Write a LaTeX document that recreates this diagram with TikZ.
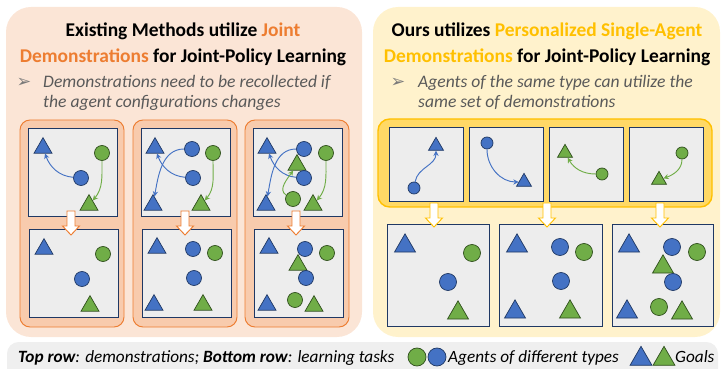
\documentclass[tikz,border=0pt]{standalone}
\usepackage{fontspec}
\setmainfont{Carlito}
\newfontfamily\symfont{DejaVu Sans}
\usepackage{tikz}
\usetikzlibrary{arrows.meta,shapes.geometric,positioning}
\definecolor{bfill}{HTML}{4472C4}
\definecolor{bline}{HTML}{1F3864}
\definecolor{gfill}{HTML}{70AD47}
\definecolor{gline}{HTML}{2F4F1C}
\definecolor{orng}{HTML}{ED7D31}
\definecolor{yllw}{HTML}{FFC000}
\definecolor{peach}{HTML}{FBE5D6}
\definecolor{salmon}{HTML}{F8CBAD}
\definecolor{cream}{HTML}{FFF2CC}
\definecolor{gold}{HTML}{FFD966}
\definecolor{boxgray}{HTML}{EDEDED}
\definecolor{txtgray}{HTML}{595959}
\tikzset{
  agentb/.style={circle,draw=bline,fill=bfill,line width=0.6pt,inner sep=0pt,minimum size=#1},
  agentb/.default=0.45cm,
  agentg/.style={circle,draw=gline,fill=gfill,line width=0.6pt,inner sep=0pt,minimum size=#1},
  agentg/.default=0.45cm,
  goalb/.style={regular polygon,regular polygon sides=3,draw=bline,fill=bfill,line width=0.6pt,inner sep=0pt,minimum size=#1},
  goalb/.default=0.62cm,
  goalg/.style={regular polygon,regular polygon sides=3,draw=gline,fill=gfill,line width=0.6pt,inner sep=0pt,minimum size=#1},
  goalg/.default=0.62cm,
  barrow/.style={-{Stealth[length=4.5pt,width=4.5pt]},bfill,line width=0.8pt},
  garrow/.style={-{Stealth[length=4.5pt,width=4.5pt]},gfill,line width=0.8pt},
  envbox/.style={draw=bline,fill=boxgray,line width=0.6pt},
  title/.style={anchor=base,font=\fontsize{16.6}{19}\selectfont\bfseries,inner sep=0pt},
  bullet/.style={anchor=base west,font=\fontsize{15}{18}\selectfont\itshape,text=txtgray,inner sep=0pt},
  bmark/.style={anchor=base,font=\fontsize{15}{18}\selectfont\symfont,text=txtgray!80,inner sep=0pt},
  legend/.style={anchor=base west,font=\fontsize{14.7}{17}\selectfont\itshape,inner sep=0pt}
}
% hollow block arrow pointing down: colour, x, top y
\newcommand*{\downarr}[3]{\draw[#1,fill=white,line width=0.8pt,line join=miter]
  ({#2-4},{#3}) -- ({#2+4},{#3}) -- ({#2+4},{#3+15}) -- ({#2+8.5},{#3+15})
  -- ({#2},{#3+24}) -- ({#2-8.5},{#3+15}) -- ({#2-4},{#3+15}) -- cycle;}

\begin{document}
\begin{tikzpicture}[x=0.03cm,y=-0.03cm]
  \useasboundingbox (0,0) rectangle (724,369);
  \clip (0,0) rectangle (724,369);

  % panels
  \fill[peach,rounded corners=0.75cm] (6,7) rectangle (362,337);
  \fill[cream,rounded corners=0.75cm] (373,7) rectangle (720,337);
  \fill[boxgray!90!white,rounded corners=0.35cm] (7,342) rectangle (718,380);

  % titles
  \node[title] (ltitle1) at (183,37) {Existing Methods utilize \textcolor{orng}{Joint}};
  \node[title] (ltitle2) at (183,63) {\textcolor{orng}{Demonstrations} for Joint-Policy Learning};
  \node[title] (rtitle1) at (547,37) {Ours utilizes \textcolor{yllw}{Personalized Single-Agent}};
  \node[title] (rtitle2) at (547,63) {\textcolor{yllw}{Demonstrations} for Joint-Policy Learning};
  \node[bmark] (lmark) at (24,88) {➢};
  \node[bullet] (lbul1) at (43,88) {Demonstrations need to be recollected if};
  \node[bullet] (lbul2) at (43,108) {the agent configurations changes};
  \node[bmark] (rmark) at (398,88) {➢};
  \node[bullet] (rbul1) at (418,88) {Agents of the same type can utilize the};
  \node[bullet] (rbul2) at (418,108) {same set of demonstrations};

  % left: joint demonstrations
  \foreach \dx in {0,113,225}{
    \draw[orng,fill=salmon,line width=0.8pt,rounded corners=0.3cm] (20+\dx,120) rectangle (124+\dx,327);
    \draw[envbox] (28+\dx,128) rectangle (117+\dx,216);
    \draw[envbox] (29+\dx,229) rectangle (118+\dx,317);
  }

  % panel 1
  \node[goalb] (l1gb) at (43,148) {};
  \node[agentg] (l1ag) at (102,153) {};
  \node[agentb] (l1ab) at (81,178) {};
  \node[goalg] (l1gg) at (89,205) {};
  \draw[barrow] (l1ab) to[out=175,in=-70] (l1gb);
  \draw[garrow] (l1ag) to[out=-90,in=50] (l1gg);
  \node[goalb] (l1tgb) at (44,249) {};
  \node[agentg] (l1tag) at (103,254) {};
  \node[agentb] (l1tab) at (82,279) {};
  \node[goalg] (l1tgg) at (90,306) {};

  % panel 2
  \node[goalb] (l2gb1) at (155,148) {};
  \node[agentb] (l2ab1) at (192,149) {};
  \node[agentg] (l2ag) at (213,153) {};
  \node[agentb] (l2ab2) at (193,178) {};
  \node[goalb] (l2gb2) at (153,205) {};
  \node[goalg] (l2gg) at (201,205) {};
  \draw[barrow] (l2ab1) to[out=180,in=80] (l2gb2);
  \draw[barrow] (l2ab2) to[out=175,in=-70] (l2gb1);
  \draw[garrow] (l2ag) to[out=-90,in=50] (l2gg);
  \node[goalb] (l2tgb1) at (157,248) {};
  \node[agentb] (l2tab1) at (193,249) {};
  \node[agentg] (l2tag) at (215,253) {};
  \node[agentb] (l2tab2) at (194,278) {};
  \node[goalb] (l2tgb2) at (154,305) {};
  \node[goalg] (l2tgg) at (203,305) {};

  % panel 3
  \node[goalb] (l3gb1) at (267,148) {};
  \node[agentb] (l3ab1) at (304,149) {};
  \node[agentg] (l3ag1) at (326,153) {};
  \node[goalg] (l3gg1) at (297,165) {};
  \node[agentb] (l3ab2) at (304,178) {};
  \node[goalb] (l3gb2) at (266,205) {};
  \node[agentg] (l3ag2) at (293,199) {};
  \node[goalg] (l3gg2) at (313,205) {};
  \draw[barrow] (l3ab1) to[out=180,in=80] (l3gb2);
  \draw[barrow] (l3ab2) to[out=175,in=-70] (l3gb1);
  \draw[garrow] (l3ag2) to[out=150,in=-125] (l3gg1);
  \draw[garrow] (l3ag1) to[out=-90,in=50] (l3gg2);
  \node[goalb] (l3tgb1) at (269,248) {};
  \node[agentb] (l3tab1) at (305,249) {};
  \node[agentg] (l3tag1) at (327,253) {};
  \node[goalg] (l3tgg1) at (298,265) {};
  \node[agentb] (l3tab2) at (306,278) {};
  \node[goalb] (l3tgb2) at (267,305) {};
  \node[agentg] (l3tag2) at (295,300) {};
  \node[goalg] (l3tgg2) at (314,306) {};

  \downarr{orng}{71}{211}
  \downarr{orng}{185}{211}
  \downarr{orng}{296}{211}

  % right: single-agent demonstrations
  \draw[yllw,fill=gold,line width=1.2pt,rounded corners=0.35cm] (378,119) rectangle (712,207);
  \foreach \x in {389,469,549,629}
    \draw[envbox] (\x,127) rectangle (\x+74,201);
  \draw[envbox] (387,224) rectangle (489,326);
  \draw[envbox] (499,224) rectangle (602,326);
  \draw[envbox] (612,224) rectangle (713,326);

  \node[goalb=0.52cm] (r1gb) at (436,146) {};
  \node[agentb=0.36cm] (r1ab) at (414,188) {};
  \draw[barrow] (r1ab) to[out=80,in=-90] (r1gb);
  \node[agentb=0.36cm] (r2ab) at (487,143) {};
  \node[goalb=0.52cm] (r2gb) at (524,182) {};
  \draw[barrow] (r2ab) to[out=-90,in=180] (r2gb);
  \node[goalg=0.52cm] (r3gg) at (565,153) {};
  \node[agentg=0.36cm] (r3ag) at (602,174) {};
  \draw[garrow] (r3ag) to[out=180,in=-60] (r3gg);
  \node[agentg=0.36cm] (r4ag) at (682,153) {};
  \node[goalg=0.52cm] (r4gg) at (659,180) {};
  \draw[garrow] (r4ag) to[out=-90,in=20] (r4gg);

  \node[goalb=0.73cm] (r1tgb) at (405,246) {};
  \node[agentg=0.51cm] (r1tag) at (472,253) {};
  \node[agentb=0.51cm] (r1tab) at (448,282) {};
  \node[goalg=0.73cm] (r1tgg) at (458,313) {};

  \node[goalb=0.73cm] (r2tgb1) at (517,246) {};
  \node[agentb=0.51cm] (r2tab1) at (560,247) {};
  \node[agentg=0.51cm] (r2tag) at (584,252) {};
  \node[agentb=0.51cm] (r2tab2) at (561,281) {};
  \node[goalb=0.73cm] (r2tgb2) at (515,312) {};
  \node[goalg=0.73cm] (r2tgg) at (570,312) {};

  \node[goalb=0.73cm] (r3tgb1) at (629,246) {};
  \node[agentb=0.51cm] (r3tab1) at (672,247) {};
  \node[agentg=0.51cm] (r3tag1) at (697,252) {};
  \node[goalg=0.73cm] (r3tgg1) at (663,267) {};
  \node[agentb=0.51cm] (r3tab2) at (673,282) {};
  \node[goalb=0.73cm] (r3tgb2) at (627,312) {};
  \node[agentg=0.51cm] (r3tag2) at (659,307) {};
  \node[goalg=0.73cm] (r3tgg2) at (682,313) {};

  \downarr{yllw}{434}{203}
  \downarr{yllw}{547}{203}
  \downarr{yllw}{660}{203}

  % legend
  \node[legend] (leg1) at (18,362) {\textbf{Top row}: demonstrations; \textbf{Bottom row}: learning tasks};
  \node[agentg=0.54cm] (legag) at (417,357) {};
  \node[agentb=0.54cm] (legab) at (437,357) {};
  \node[legend] (leg2) at (448,362) {Agents of different types};
  \node[goalb=0.76cm] (leggb) at (641,359) {};
  \node[goalg=0.76cm] (leggg) at (664,359) {};
  \node[legend] (leg3) at (675,362) {Goals};
\end{tikzpicture}
\end{document}
